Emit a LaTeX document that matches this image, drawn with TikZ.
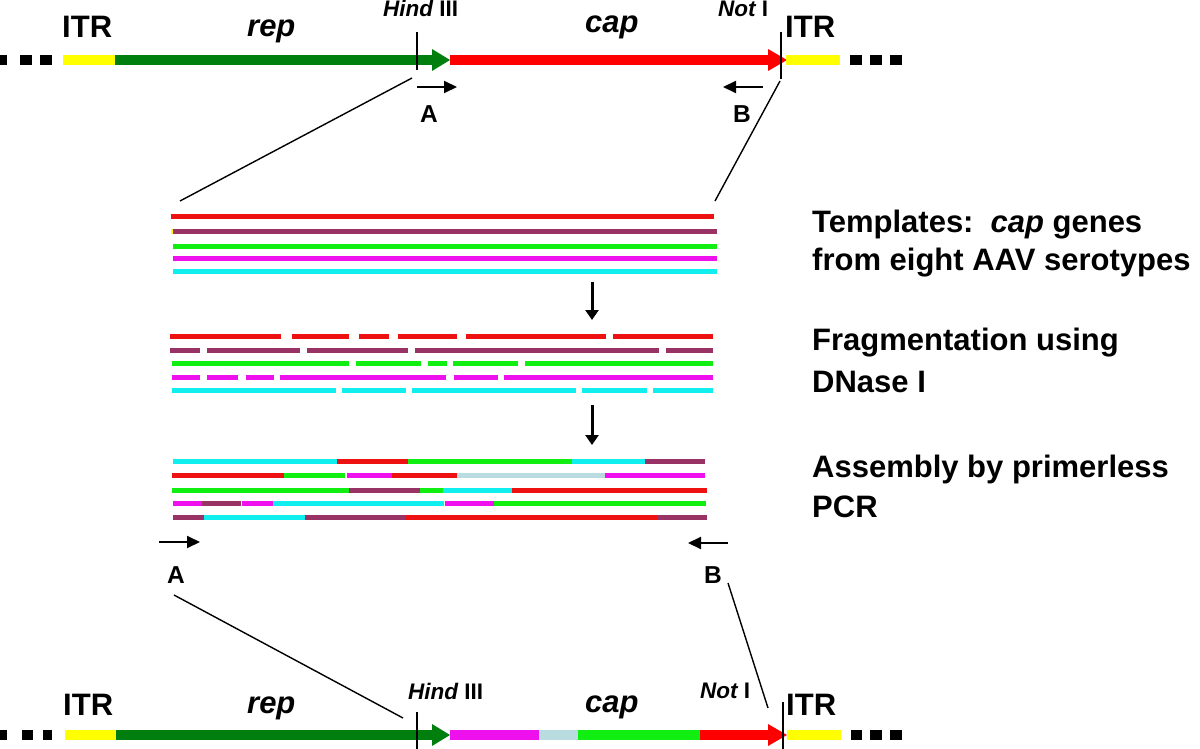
\documentclass[tikz,border=0pt]{standalone}
\usepackage{fontspec}
\setmainfont{Liberation Sans}
\usetikzlibrary{arrows.meta}
\definecolor{dgreen}{HTML}{007F0E}
\definecolor{bred}{HTML}{FF0000}
\definecolor{byel}{HTML}{FFFF00}
\definecolor{fred}{HTML}{EE1111}
\definecolor{fpur}{HTML}{993366}
\definecolor{fgrn}{HTML}{11EE11}
\definecolor{fmag}{HTML}{EE11EE}
\definecolor{fcyn}{HTML}{11EEEE}
\definecolor{flbl}{HTML}{B8DCE0}
\tikzset{
  big/.style={font=\bfseries\fontsize{31}{36}\selectfont, inner sep=0pt, anchor=base west},
  small/.style={font=\bfseries\fontsize{22.5}{26}\selectfont, inner sep=0pt, anchor=base west},
  primlab/.style={font=\bfseries\fontsize{24.5}{28}\selectfont, inner sep=0pt, anchor=base},
  seg/.style={line width=5pt},
  conn/.style={line width=1.4pt},
  tick/.style={line width=1.2pt},
  primer/.style={line width=2pt, -{Triangle[length=13pt,width=12pt]}},
  stagearrow/.style={line width=3pt, -{Triangle[length=10pt,width=13pt]}},
}
\begin{document}
\begin{tikzpicture}[x=1pt,y=-1pt]
\useasboundingbox (0,0) rectangle (1200,749);

% ---------- top construct ----------
\foreach \a/\b in {0/7,20/32,40/52,850/862,870/882,890/902}
  \fill[black] (\a,55) rectangle (\b,65);
\fill[byel] (63,55) rectangle (115,65);
\fill[dgreen] (115,55) rectangle (433,65);
\fill[dgreen] (432,49) -- (450,60) -- (432,71) -- cycle;
\fill[bred] (450,55) rectangle (769,65);
\fill[bred] (768,49) -- (787,60) -- (768,71) -- cycle;
\fill[byel] (786,55) rectangle (840,65);

\node[big] (itr1) at (62,38) {ITR};
\node[big] (rep1) at (247,37) {\itshape rep};
\node[small] (hind1) at (383,17) {\itshape Hind\upshape{} III};
\node[big] (cap1) at (585,33) {\itshape cap};
\node[small] (not1) at (718,17) {\itshape Not\upshape{} I};
\node[big] (itr2) at (785,38) {ITR};

\coordinate (h1t) at (417,32); \coordinate (h1b) at (417,70);
\coordinate (n1t) at (781,32); \coordinate (n1b) at (781,79);
\draw[tick] (h1t) -- (h1b);
\draw[tick] (n1t) -- (n1b);

\coordinate (pA1s) at (417,87); \coordinate (pA1e) at (457,87);
\coordinate (pB1s) at (763,87); \coordinate (pB1e) at (723,87);
\draw[primer] (pA1s) -- (pA1e);
\draw[primer] (pB1s) -- (pB1e);
\node[primlab] (A1) at (429,123) {A};
\node[primlab] (B1) at (742,123) {B};

\coordinate (cl1) at (412,78); \coordinate (cl2) at (180,201);
\coordinate (cr1) at (780,81); \coordinate (cr2) at (715,201);
\draw[conn] (cl1) -- (cl2);
\draw[conn] (cr1) -- (cr2);

% ---------- templates ----------
\draw[seg,fred] (171,216.5) -- (714,216.5);
\draw[seg,fpur] (173,231) -- (717,231);
\fill[byel] (170.5,228.5) rectangle (173,233.5);
\draw[seg,fgrn] (173,246) -- (717,246);
\draw[seg,fmag] (173,258.5) -- (717,258.5);
\draw[seg,fcyn] (173,271) -- (717,271);

\node[big] (t1) at (812,233) {Templates:\hspace{0.55em}\itshape cap\upshape{} genes};
\node[big] (t2) at (812,270) {from eight AAV serotypes};

\coordinate (ar1s) at (592,282); \coordinate (ar1e) at (592,320);
\draw[stagearrow] (ar1s) -- (ar1e);

% ---------- fragments ----------
\foreach \a/\b in {170/281,292/349,359/389,398/457,466/606,613/713}
  \draw[seg,fred] (\a,336) -- (\b,336);
\foreach \a/\b in {170/200,207/300,307/408,415/659,666/713}
  \draw[seg,fpur] (\a,350) -- (\b,350);
\foreach \a/\b in {172/349,356/421,428/447,453/518,525/713}
  \draw[seg,fgrn] (\a,363) -- (\b,363);
\foreach \a/\b in {172/200,207/238,246/274,280/446,454/498,504/713}
  \draw[seg,fmag] (\a,377) -- (\b,377);
\foreach \a/\b in {172/336,342/406,412/576,582/647,653/713}
  \draw[seg,fcyn] (\a,390) -- (\b,390);

\node[big] (f1) at (812,350) {Fragmentation using};
\node[big] (f2) at (812,392) {DNase I};

\coordinate (ar2s) at (592,405); \coordinate (ar2e) at (592,445);
\draw[stagearrow] (ar2s) -- (ar2e);

% ---------- assembly ----------
\foreach \a/\b/\c in {173/337/fcyn,337/408/fred,408/572/fgrn,572/645/fcyn,645/705/fpur}
  \draw[seg,\c] (\a,461) -- (\b,461);
\foreach \a/\b/\c in {172/284/fred,284/345/fgrn,347/392/fmag,392/457/fred,457/605/flbl,605/705/fmag}
  \draw[seg,\c] (\a,475) -- (\b,475);
\foreach \a/\b/\c in {172/349/fgrn,349/420/fpur,420/443/fgrn,443/512/fcyn,512/707/fred}
  \draw[seg,\c] (\a,490) -- (\b,490);
\foreach \a/\b/\c in {173/202/fmag,202/241/fpur,242/273/fmag,273/444/fcyn,445/494/fmag,494/706/fgrn}
  \draw[seg,\c] (\a,503) -- (\b,503);
\foreach \a/\b/\c in {173/204/fpur,204/305/fcyn,305/406/fpur,406/657/fred,657/707/fpur}
  \draw[seg,\c] (\a,517) -- (\b,517);

\node[big] (s1) at (812,477) {Assembly by primerless};
\node[big] (s2) at (812,517) {PCR};

\coordinate (pA2s) at (159,542); \coordinate (pA2e) at (200,542);
\coordinate (pB2s) at (728,543); \coordinate (pB2e) at (688,543);
\draw[primer] (pA2s) -- (pA2e);
\draw[primer] (pB2s) -- (pB2e);
\node[primlab] (A2) at (176,583) {A};
\node[primlab] (B2) at (713,583) {B};

\coordinate (bl1) at (174,595); \coordinate (bl2) at (403,718);
\coordinate (br1) at (728,583); \coordinate (br2) at (768,708);
\draw[conn] (bl1) -- (bl2);
\draw[conn] (br1) -- (br2);

% ---------- bottom construct ----------
\foreach \a/\b in {0/7,22/33,43/52,851/862,870/882,890/902}
  \fill[black] (\a,730) rectangle (\b,740);
\fill[byel] (65,730) rectangle (116,740);
\fill[dgreen] (116,730) rectangle (433,740);
\fill[dgreen] (432,724) -- (450,735) -- (432,746) -- cycle;
\fill[fmag] (450,730) rectangle (539,740);
\fill[flbl] (539,730) rectangle (578,740);
\fill[fgrn] (578,730) rectangle (700,740);
\fill[bred] (700,730) rectangle (769,740);
\fill[bred] (768,724) -- (787,735) -- (768,746) -- cycle;
\fill[byel] (787,730) rectangle (841,740);

\node[big] (itr3) at (63,715) {ITR};
\node[big] (rep2) at (247,713) {\itshape rep};
\node[small] (hind2) at (408,699) {\itshape Hind\upshape{} III};
\node[big] (cap2) at (585,712) {\itshape cap};
\node[small] (not2) at (700,698) {\itshape Not\upshape{} I};
\node[big] (itr4) at (786,715) {ITR};

\coordinate (h2t) at (417,712); \coordinate (h2b) at (417,749);
\coordinate (n2t) at (783,702); \coordinate (n2b) at (783,749);
\draw[tick] (h2t) -- (h2b);
\draw[tick] (n2t) -- (n2b);
\end{tikzpicture}
\end{document}
